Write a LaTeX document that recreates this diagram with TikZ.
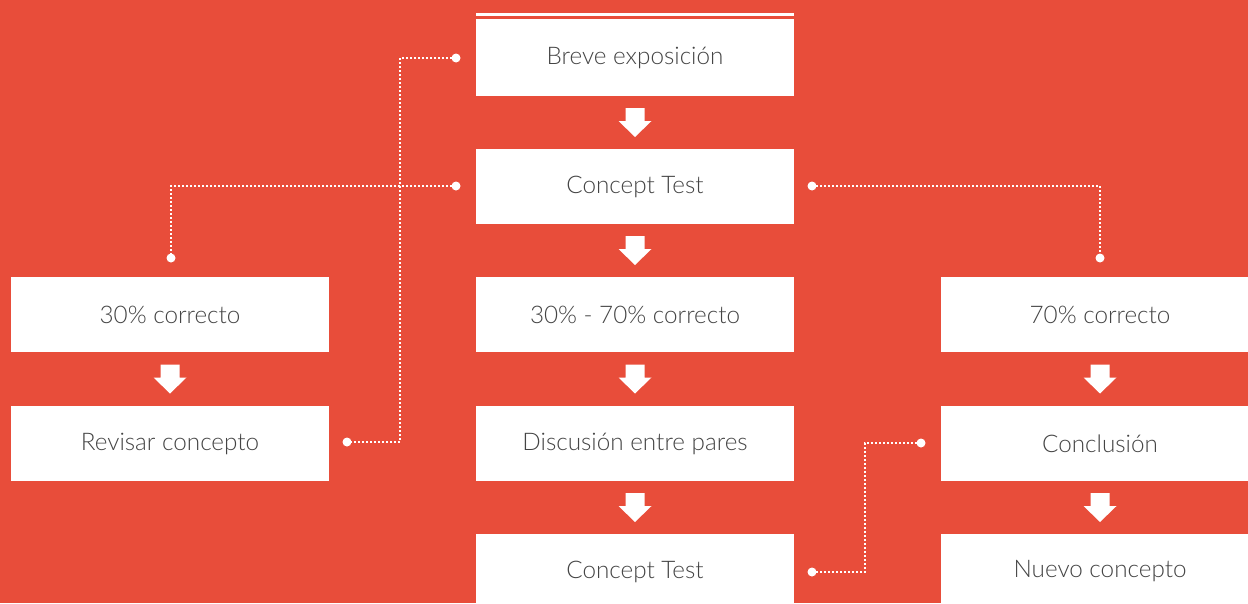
\documentclass[tikz,border=0pt]{standalone}
\usepackage{fontspec}
\setmainfont{Lato}[UprightFont=* Light]
\usetikzlibrary{calc}
\definecolor{bgred}{HTML}{E84D3A}
\definecolor{txtgrey}{HTML}{444444}
\tikzset{
  box/.style={fill=white, draw=none, minimum width=238.5pt, minimum height=56.25pt, inner sep=0pt,
    text=txtgrey, font=\fontsize{18.2}{20}\selectfont},
  dotline/.style={draw=white, line width=1.5pt, dash pattern=on 1.5pt off 1.5pt},
  enddot/.style={fill=white, draw=none},
  downarrow/.pic={\fill[white] (-9.5,-14.5) -- (9.5,-14.5) -- (9.5,-1.5) -- (16.5,-1.5) -- (0,14.5) -- (-16.5,-1.5) -- (-9.5,-1.5) -- cycle;}
}
\begin{document}
\begin{tikzpicture}[x=0.75pt,y=-0.75pt]
\fill[bgred] (0,0) rectangle (1248,603);
\useasboundingbox (0,0) rectangle (1248,603);
\clip (0,0) rectangle (1248,603);
% top rule
\draw[white, line width=2.25pt] (476,14.5) -- (794,14.5);
% centre column
\node[box, minimum height=57.75pt] (b1) at (635,57.5) {Breve exposición};
\node[box] (c1) at (635,186.5) {Concept Test};
\node[box] (c2) at (635,314.5) {30\% - 70\% correcto};
\node[box] (c3) at (635,443.5) {Discusión entre pares};
\node[box] (c4) at (635,571.5) {Concept Test};
% left column
\node[box] (l1) at (170,314.5) {30\% correcto};
\node[box] (l2) at (170,443.5) {Revisar concepto};
% right column
\node[box] (r1) at (1100,314.5) {70\% correcto};
\node[box] (r2) at (1100,443.5) {Conclusión};
\node[box] (r3) at (1100,571.5) {Nuevo concepto};
% arrows
\pic at ($(b1.south)!0.5!(c1.north)$) {downarrow};
\pic at ($(c1.south)!0.5!(c2.north)$) {downarrow};
\pic at ($(c2.south)!0.5!(c3.north)$) {downarrow};
\pic at ($(c3.south)!0.5!(c4.north)$) {downarrow};
\pic at ($(l1.south)!0.5!(l2.north)$) {downarrow};
\pic at ($(r1.south)!0.5!(r2.north)$) {downarrow};
\pic at ($(r2.south)!0.5!(r3.north)$) {downarrow};
% connector endpoints
\coordinate (p1a) at (456,58);
\coordinate (p1b) at (347,442);
\coordinate (p2a) at (456,186);
\coordinate (p2b) at (171,258);
\coordinate (p3a) at (812,186);
\coordinate (p3b) at (1100,258);
\coordinate (p4a) at (812,572);
\coordinate (p4b) at (921,443);
% dotted connectors
\draw[dotline] (p1a) -| (400,442) -- (p1b);
\draw[dotline] (p2a) -| (p2b);
\draw[dotline] (p3a) -| (p3b);
\draw[dotline] (p4a) -| (865,443) -- (p4b);
\foreach \p in {p1a,p1b,p2a,p2b,p3a,p3b,p4a,p4b}
  \fill[enddot] (\p) circle (4.5);
\end{tikzpicture}
\end{document}
